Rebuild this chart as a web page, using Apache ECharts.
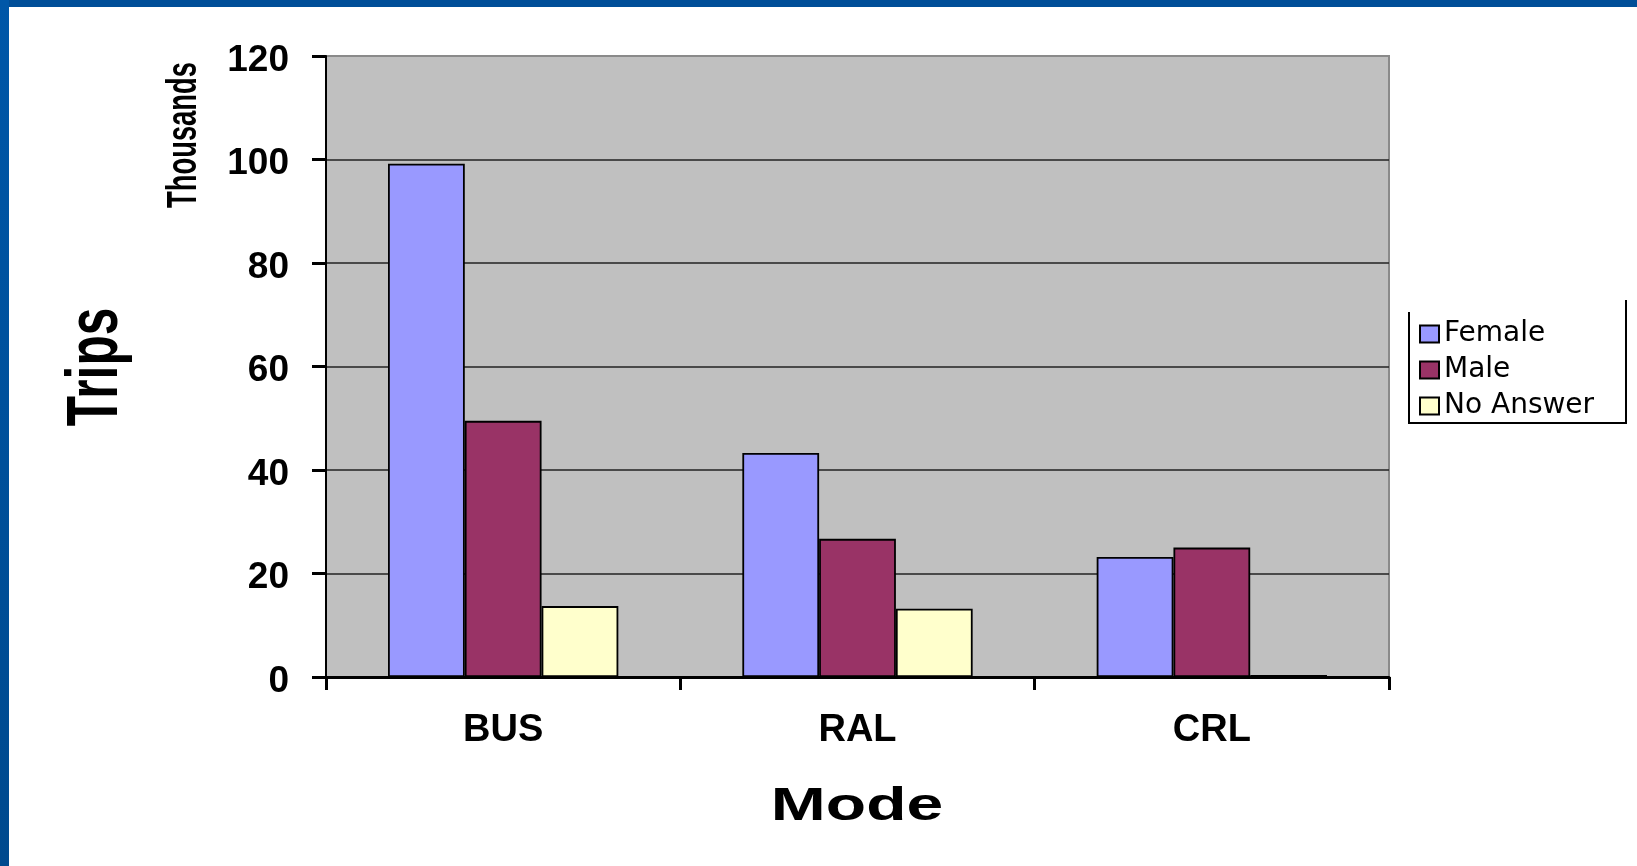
<!DOCTYPE html>
<html>
<head>
<meta charset="utf-8">
<script src="https://cdn.jsdelivr.net/npm/echarts@6.0.0/dist/echarts.min.js"></script>
<style>
html,body{margin:0;padding:0;background:#fff;}
#c{width:1637px;height:866px;}
</style>
</head>
<body>
<div id="c"></div>
<script>
// Data (values in thousands of trips)
const categories = ['BUS', 'RAL', 'CRL'];
const seriesNames = ['Female', 'Male', 'No Answer'];
const female = [99.2, 43.3, 23.2];
const male = [49.5, 26.7, 25.0];
const noAnswer = [13.7, 13.2, 0.4];
const yMin = 0, yMax = 120, yInterval = 20;

const colors = ['#9999FF', '#993366', '#FFFFCC'];
const FONT = '"Liberation Sans", Arial, sans-serif';

const chart = echarts.init(document.getElementById('c'), null, {renderer: 'canvas'});

function bar(name, data, color) {
  return {
    name: name,
    type: 'bar',
    data: data,
    barGap: '0%',
    barCategoryGap: '35%',
    itemStyle: {color: color, borderColor: '#000', borderWidth: 1.8},
    emphasis: {disabled: true},
    animation: false
  };
}

const option = {
  animation: false,
  backgroundColor: '#ffffff',
  grid: {
    left: 326, top: 56, width: 1063, height: 621,
    show: true, backgroundColor: '#C0C0C0',
    borderColor: '#8a8a8a', borderWidth: 2
  },
  legend: {
    orient: 'vertical',
    left: 1419, top: 320,
    padding: 0,
    icon: 'rect',
    itemWidth: 19, itemHeight: 17,
    itemGap: 8,
    itemTextGap: 13,
    data: seriesNames,
    textStyle: {fontFamily: '"DejaVu Sans", sans-serif', fontSize: 28, color: '#000', lineHeight: 26},
    selectedMode: false
  },
  xAxis: {
    type: 'category',
    data: categories,
    axisLine: {show: true, onZero: false, lineStyle: {color: '#000', width: 3}},
    axisTick: {show: true, alignWithLabel: false, interval: 0, length: 13, lineStyle: {color: '#000', width: 3}},
    axisLabel: {fontFamily: FONT, fontWeight: 'bold', fontSize: 38, color: '#000', margin: 35},
    splitLine: {show: false}
  },
  yAxis: {
    type: 'value',
    min: yMin, max: yMax, interval: yInterval,
    axisLine: {show: true, lineStyle: {color: '#000', width: 2}},
    axisTick: {show: true, length: 14, lineStyle: {color: '#000', width: 3}},
    axisLabel: {fontFamily: FONT, fontWeight: 'bold', fontSize: 37, color: '#000', margin: 37,
      verticalAlign: 'top', lineHeight: 9},
    splitLine: {show: true, showMaxLine: false, showMinLine: false, lineStyle: {color: '#222', width: 1.5}}
  },
  series: [
    bar(seriesNames[0], female, colors[0]),
    bar(seriesNames[1], male, colors[1]),
    bar(seriesNames[2], noAnswer, colors[2])
  ],
  graphic: [
    {type: 'rect', shape: {x: 0, y: 0, width: 1637, height: 7}, style: {fill: '#004E98'}, silent: true},
    {type: 'rect', shape: {x: 0, y: 0, width: 9, height: 866},
      style: {fill: new echarts.graphic.LinearGradient(0, 0, 0, 1, [
        {offset: 0, color: '#0057A8'}, {offset: 1, color: '#004A8E'}])}, silent: true},
    {type: 'polyline', shape: {points: [[1409, 312], [1409, 423], [1626, 423], [1626, 300]]},
      style: {stroke: '#000', lineWidth: 2, fill: null}, silent: true},
    {type: 'text', x: 184, y: 135, rotation: Math.PI / 2, scaleX: 0.685, scaleY: 1.05,
      style: {text: 'Thousands', font: 'bold 40px ' + FONT, fill: '#000', align: 'center', verticalAlign: 'middle'}, silent: true},
    {type: 'text', x: 97, y: 367, rotation: Math.PI / 2, scaleX: 0.69, scaleY: 1,
      style: {text: 'Trips', font: 'bold 72px ' + FONT, fill: '#000', align: 'center', verticalAlign: 'middle'}, silent: true},
    {type: 'text', x: 857, y: 807, scaleX: 1, scaleY: 0.7,
      style: {text: 'Mode', font: 'bold 66px ' + FONT, fill: '#000', align: 'center', verticalAlign: 'middle'}, silent: true}
  ]
};

chart.setOption(option);
</script>
</body>
</html>
